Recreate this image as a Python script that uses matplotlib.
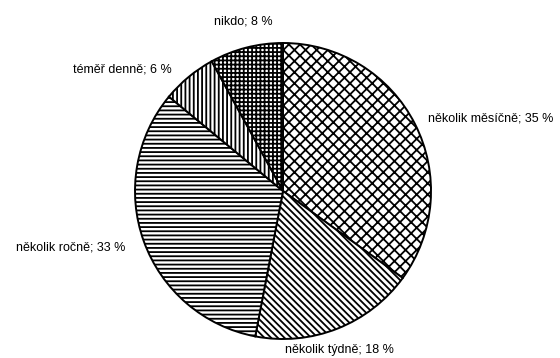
import matplotlib
matplotlib.use("Agg")
import matplotlib.pyplot as plt

# how often - shares in percent
labels = ["několik měsíčně", "několik týdně", "několik ročně", "téměř denně", "nikdo"]
shares = [35, 18, 33, 6, 8]
hatches = ["xxx", "\\" * 5, "-" * 4, "|" * 4, "+" * 4]

plt.rcParams["font.family"] = ["Liberation Sans", "DejaVu Sans"]
plt.rcParams["hatch.linewidth"] = 1.3

fig = plt.figure(figsize=(5.6, 3.58), dpi=100)
ax = fig.add_axes([135 / 560, 19 / 358, 296 / 560, 296 / 358])

wedges, _ = ax.pie(shares, startangle=90, counterclock=False,
                   colors=["white"] * len(shares), radius=1.0,
                   wedgeprops=dict(edgecolor="black", linewidth=1.4))
for w, h in zip(wedges, hatches):
    w.set_hatch(h)

# label positions in figure pixels (centre of text)
label_pos = [(491, 118), (339, 350), (71, 248), (122, 70), (243, 22)]
for name, val, (px, py) in zip(labels, shares, label_pos):
    fig.text(px / 560, 1 - py / 358, f"{name}; {val} %", ha="center", va="center",
             fontsize=9)

ax.set_xlim(-1, 1)
ax.set_ylim(-1, 1)
ax.set_aspect("equal")
ax.axis("off")

fig.savefig("out.png", dpi=100)
